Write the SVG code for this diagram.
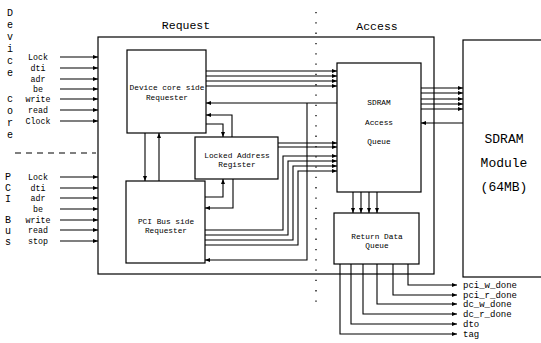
<svg xmlns="http://www.w3.org/2000/svg" width="541" height="343" viewBox="0 0 541 343">
<style>
.box{fill:#fff;stroke:#000;stroke-width:1.2}
.ln{fill:none;stroke:#000;stroke-width:1.1}
.t{font-family:"Liberation Mono","DejaVu Sans Mono",monospace;fill:#000}
.sig{font-size:8.3px;text-anchor:middle}
.out{font-size:9px}
.lbl{font-size:7.8px;text-anchor:middle}
.big{font-size:11.5px;text-anchor:middle}
.mod{font-size:13px;text-anchor:middle}
.vl{font-size:10px;text-anchor:middle}
</style>
<defs>
<marker id="ah" viewBox="0 0 10 10" refX="10" refY="5" markerWidth="5" markerHeight="5" markerUnits="userSpaceOnUse" orient="auto">
<path d="M0,1 L10,5 L0,9 Z" fill="#000"/>
</marker>
</defs>
<rect width="541" height="343" fill="#fff"/>

<g id="divider">
<line x1="316" y1="12" x2="316" y2="302" stroke="#000" stroke-width="1.3" stroke-dasharray="1.3 9"/>
<line x1="15" y1="153" x2="96" y2="153" stroke="#000" stroke-width="1.2" stroke-dasharray="6 5"/>
</g>

<g id="titles">
<text class="t big" x="186" y="29">Request</text>
<text class="t big" x="377" y="30">Access</text>
</g>

<g id="device-core-label">
<text class="t vl" x="10" y="16">D</text>
<text class="t vl" x="10" y="28">e</text>
<text class="t vl" x="10" y="40">v</text>
<text class="t vl" x="10" y="52">i</text>
<text class="t vl" x="10" y="64">c</text>
<text class="t vl" x="10" y="76">e</text>
<text class="t vl" x="10" y="102">c</text>
<text class="t vl" x="10" y="114">o</text>
<text class="t vl" x="10" y="126">r</text>
<text class="t vl" x="10" y="138">e</text>
</g>
<g id="pci-bus-label">
<text class="t vl" x="8" y="180">P</text>
<text class="t vl" x="8" y="191">C</text>
<text class="t vl" x="8" y="202">I</text>
<text class="t vl" x="8" y="223">B</text>
<text class="t vl" x="8" y="234">u</text>
<text class="t vl" x="8" y="245">s</text>
</g>

<g id="outer-box">
<rect x="98" y="37" width="336" height="237" fill="none" stroke="#000" stroke-width="1.2"/>
</g>

<g id="sdram-module">
<rect class="box" x="463" y="40" width="100" height="237"/>
<text class="t mod" x="504" y="143">SDRAM</text>
<text class="t mod" x="504" y="167">Module</text>
<text class="t mod" x="504" y="191">(64MB)</text>
</g>

<g id="device-requester">
<rect class="box" x="127" y="50" width="79" height="83"/>
<text class="t lbl" x="167" y="90">Device core side</text>
<text class="t lbl" x="167" y="100">Requester</text>
</g>

<g id="locked-address-register">
<rect class="box" x="195" y="137" width="83" height="42"/>
<text class="t lbl" x="237" y="158">Locked Address</text>
<text class="t lbl" x="237" y="167">Register</text>
</g>

<g id="pci-requester">
<rect class="box" x="126" y="181" width="79" height="82"/>
<text class="t lbl" x="166" y="224">PCI Bus side</text>
<text class="t lbl" x="166" y="233">Requester</text>
</g>

<g id="sdram-access-queue">
<rect class="box" x="337" y="63" width="84" height="129"/>
<text class="t lbl" x="379" y="105">SDRAM</text>
<text class="t lbl" x="379" y="125">Access</text>
<text class="t lbl" x="379" y="144">Queue</text>
</g>

<g id="return-data-queue">
<rect class="box" x="334" y="213" width="85" height="51"/>
<text class="t lbl" x="377" y="239">Return Data</text>
<text class="t lbl" x="377" y="248">Queue</text>
</g>

<g id="signal-labels">
<text class="t sig" x="38" y="60">Lock</text>
<text class="t sig" x="38" y="71">dti</text>
<text class="t sig" x="38" y="82">adr</text>
<text class="t sig" x="38" y="92">be</text>
<text class="t sig" x="38" y="102">write</text>
<text class="t sig" x="38" y="113">read</text>
<text class="t sig" x="38" y="124">Clock</text>
<text class="t sig" x="38" y="180">Lock</text>
<text class="t sig" x="38" y="191">dti</text>
<text class="t sig" x="38" y="201">adr</text>
<text class="t sig" x="38" y="212">be</text>
<text class="t sig" x="38" y="223">write</text>
<text class="t sig" x="38" y="233">read</text>
<text class="t sig" x="38" y="244">stop</text>
<text class="t out" x="463" y="288">pci_w_done</text>
<text class="t out" x="463" y="298">pci_r_done</text>
<text class="t out" x="463" y="307">dc_w_done</text>
<text class="t out" x="463" y="317">dc_r_done</text>
<text class="t out" x="463" y="327">dto</text>
<text class="t out" x="463" y="337">tag</text>
</g>

<g id="connectors" class="ln" marker-end="url(#ah)">
<path d="M60,57 H98"/>
<path d="M60,68 H98"/>
<path d="M60,79 H98"/>
<path d="M60,89 H98"/>
<path d="M60,99 H98"/>
<path d="M60,110 H98"/>
<path d="M60,121 H98"/>
<path d="M60,177 H98"/>
<path d="M60,188 H98"/>
<path d="M60,198 H98"/>
<path d="M60,209 H98"/>
<path d="M60,220 H98"/>
<path d="M60,230 H98"/>
<path d="M60,241 H98"/>
<path d="M206,71 H337"/>
<path d="M206,76 H337"/>
<path d="M206,81 H337"/>
<path d="M206,86 H337"/>
<path d="M337,103 H206"/>
<path d="M307,103 V260 H205"/>
<path d="M232,137 V115 H206"/>
<path d="M206,124 H223 V137"/>
<path d="M205,197 H223 V179"/>
<path d="M233,179 V208 H205"/>
<path d="M145,133 V181"/>
<path d="M159,181 V133"/>
<path d="M278,143 H337"/>
<path d="M278,147 H337"/>
<path d="M205,230 H283 V156 H337"/>
<path d="M205,235 H288 V161 H337"/>
<path d="M205,240 H293 V166 H337"/>
<path d="M205,245 H298 V171 H337"/>
<path d="M421,88 H463"/>
<path d="M421,93 H463"/>
<path d="M421,99 H463"/>
<path d="M421,104 H463"/>
<path d="M421,109 H463"/>
<path d="M463,123 H421"/>
<path d="M353,192 V213"/>
<path d="M361,192 V213"/>
<path d="M369,192 V213"/>
<path d="M377,192 V213"/>
<path d="M408,264 V285 H457"/>
<path d="M393,264 V295 H457"/>
<path d="M377,264 V304 H457"/>
<path d="M363,264 V314 H457"/>
<path d="M351,264 V324 H457"/>
<path d="M340,264 V334 H457"/>
</g>
</svg>
